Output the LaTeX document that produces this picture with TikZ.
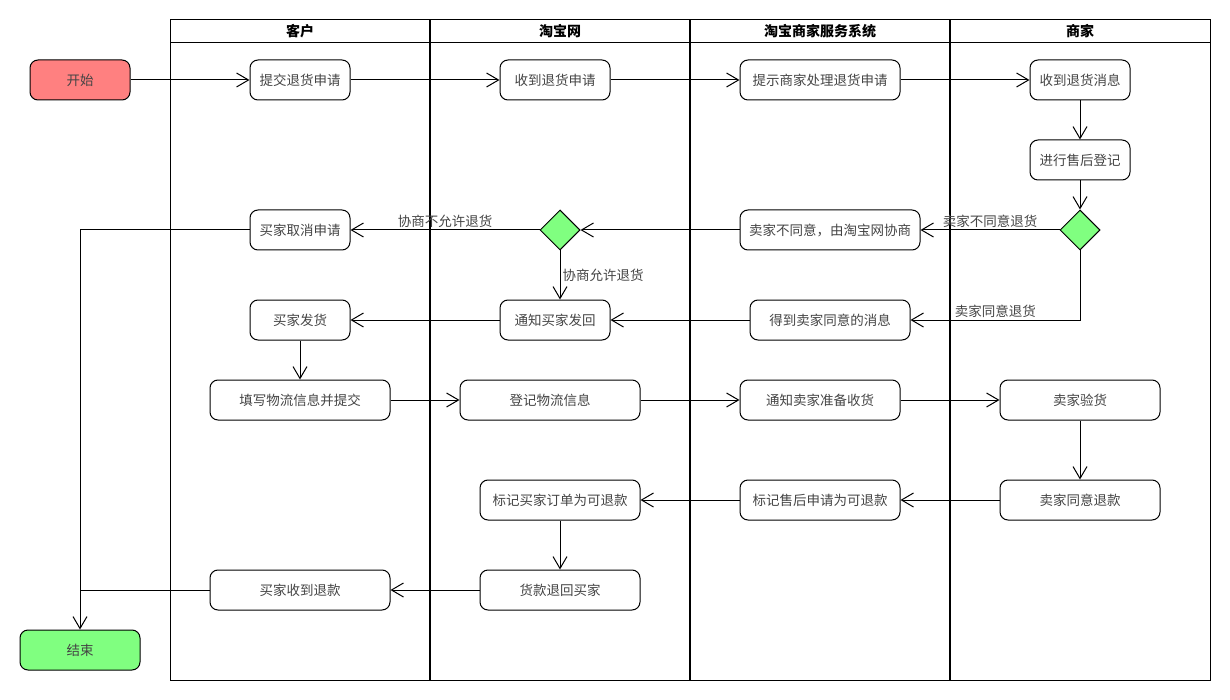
\documentclass[tikz,border=0pt]{standalone}
\usepackage{fontspec}
\newfontfamily\cjk{Noto Sans CJK SC}
\usetikzlibrary{arrows.meta,shapes.geometric}
\definecolor{startred}{HTML}{FF8080}
\definecolor{endgreen}{HTML}{80FF80}
\definecolor{txtgray}{HTML}{444444}
\begin{document}
\begin{tikzpicture}[x=1pt,y=-1pt,
  every node/.style={font=\cjk\fontsize{13.5}{16}\selectfont},
  actbox/.style={draw, line width=1pt, rounded corners=8pt, text=txtgray, inner sep=0pt},
  decide/.style={draw, line width=1pt, diamond, fill=endgreen, minimum width=40pt, minimum height=40pt, inner sep=0pt},
  arr/.style={line width=1pt, -{Straight Barb[length=12pt,width=14pt,line width=1pt]}},
  plain/.style={line width=1pt},
  lbl/.style={text=txtgray, inner sep=2pt},
  hdr/.style={font=\cjk\bfseries\fontsize{14}{16}\selectfont, text=black}
]
\useasboundingbox (0,0) rectangle (1230,700);
% swimlanes
\draw[line width=1pt] (170,20) rectangle (1210,680);
\draw[line width=1pt] (170,43) -- (1210,43);
\foreach \xx in {430,690,950} \draw[line width=2pt] (\xx,20) -- (\xx,680);
\node[hdr] (h1) at (300,31.5) {客户};
\node[hdr] (h2) at (560,31.5) {淘宝网};
\node[hdr] (h3) at (820,31.5) {淘宝商家服务系统};
\node[hdr] (h4) at (1080,31.5) {商家};
% nodes
\node[actbox, fill=startred, minimum width=100pt, minimum height=40pt] (start) at (80,80) {开始};
\node[actbox, fill=endgreen, minimum width=120pt, minimum height=40pt] (end) at (80,650) {结束};
\node[actbox, minimum width=100pt, minimum height=40pt] (submit) at (300,80) {提交退货申请};
\node[actbox, minimum width=110pt, minimum height=40pt] (recv) at (555,80) {收到退货申请};
\node[actbox, minimum width=160pt, minimum height=40pt] (notify) at (820,80) {提示商家处理退货申请};
\node[actbox, minimum width=100pt, minimum height=40pt] (msg) at (1080,80) {收到退货消息};
\node[actbox, minimum width=100pt, minimum height=40pt] (reg) at (1080,160) {进行售后登记};
\node[decide] (d1) at (1080,230) {};
\node[actbox, minimum width=180pt, minimum height=40pt] (disagree) at (830,230) {卖家不同意，由淘宝网协商};
\node[decide] (d2) at (560,230) {};
\node[actbox, minimum width=100pt, minimum height=40pt] (cancel) at (300,230) {买家取消申请};
\node[actbox, minimum width=110pt, minimum height=40pt] (sendback) at (555,320) {通知买家发回};
\node[actbox, minimum width=160pt, minimum height=40pt] (agree) at (830,320) {得到卖家同意的消息};
\node[actbox, minimum width=100pt, minimum height=40pt] (ship) at (300,320) {买家发货};
\node[actbox, minimum width=180pt, minimum height=40pt] (fill) at (300,400) {填写物流信息并提交};
\node[actbox, minimum width=180pt, minimum height=40pt] (log) at (550,400) {登记物流信息};
\node[actbox, minimum width=160pt, minimum height=40pt] (prep) at (820,400) {通知卖家准备收货};
\node[actbox, minimum width=160pt, minimum height=40pt] (inspect) at (1080,400) {卖家验货};
\node[actbox, minimum width=160pt, minimum height=40pt] (okrefund) at (1080,500) {卖家同意退款};
\node[actbox, minimum width=160pt, minimum height=40pt] (markafter) at (820,500) {标记售后申请为可退款};
\node[actbox, minimum width=160pt, minimum height=40pt] (markorder) at (560,500) {标记买家订单为可退款};
\node[actbox, minimum width=160pt, minimum height=40pt] (back) at (560,590) {货款退回买家};
\node[actbox, minimum width=180pt, minimum height=40pt] (got) at (300,590) {买家收到退款};
% connectors
\draw[arr] (start) -- (submit);
\draw[arr] (submit) -- (recv);
\draw[arr] (recv) -- (notify);
\draw[arr] (notify) -- (msg);
\draw[arr] (msg) -- (reg);
\draw[arr] (reg) -- (d1);
\draw[arr] (d1.west) -- node[lbl, above] {卖家不同意退货} (disagree);
\draw[arr] (d1.south) |- node[lbl, above, pos=0.75] {卖家同意退货} (agree.east);
\draw[arr] (disagree) -- (d2);
\draw[arr] (d2.west) -- node[lbl, above] {协商不允许退货} (cancel);
\draw[arr] (d2.south) -- node[lbl, right] {协商允许退货} (d2.south |- sendback.north);
\draw[arr] (agree) -- (sendback);
\draw[arr] (sendback) -- (ship);
\draw[arr] (ship) -- (fill);
\draw[arr] (fill) -- (log);
\draw[arr] (log) -- (prep);
\draw[arr] (prep) -- (inspect);
\draw[arr] (inspect) -- (okrefund);
\draw[arr] (okrefund) -- (markafter);
\draw[arr] (markafter) -- (markorder);
\draw[arr] (markorder) -- (back);
\draw[arr] (back) -- (got);
\draw[arr] (cancel.west) -| (end.north);
\draw[plain] (got.west) -- (got.west -| end.north);
\end{tikzpicture}
\end{document}
